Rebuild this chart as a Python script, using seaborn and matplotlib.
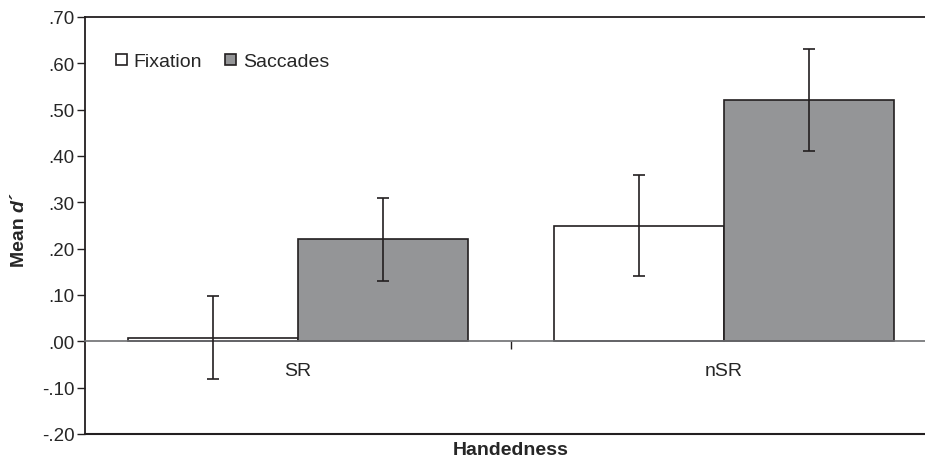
import numpy as np
import pandas as pd
import matplotlib
matplotlib.use("Agg")
import matplotlib.pyplot as plt
import seaborn as sns

# Datos
handedness = ["SR", "nSR"]
conditions = ["Fixation", "Saccades"]
fixation_mean = [0.008, 0.25]
saccades_mean = [0.22, 0.52]
fixation_err = [0.089, 0.11]
saccades_err = [0.09, 0.11]
ytick_vals = [-0.2, -0.1, 0.0, 0.1, 0.2, 0.3, 0.4, 0.5, 0.6, 0.7]
ytick_labels = ["-.20", "-.10", ".00", ".10", ".20", ".30", ".40", ".50", ".60", ".70"]

df = pd.DataFrame({
    "Handedness": handedness * 2,
    "Condition": ["Fixation"] * 2 + ["Saccades"] * 2,
    "d": fixation_mean + saccades_mean,
    "err": fixation_err + saccades_err,
})

sns.set_style("white")
plt.rcParams["font.family"] = ["Liberation Sans", "DejaVu Sans"]

fig = plt.figure(figsize=(9.25, 4.6), dpi=100)
ax = fig.add_axes([85 / 925, 25 / 460, 852 / 925, 417 / 460])

edge = "#231f20"
sns.barplot(data=df, x="Handedness", y="d", hue="Condition", order=handedness,
            hue_order=conditions, palette=["white", "#939598"], width=0.8,
            edgecolor=edge, linewidth=1.2, errorbar=None, ax=ax)

# barras de error sobre cada barra
for cont, cond in zip(ax.containers, conditions):
    sub = df[df["Condition"] == cond].set_index("Handedness").loc[handedness]
    xs = [p.get_x() + p.get_width() / 2 for p in cont.patches]
    ax.errorbar(xs, sub["d"], yerr=sub["err"], fmt="none", ecolor=edge,
                elinewidth=1.2, capsize=4.5, capthick=1.2, zorder=5)

ax.set_ylim(-0.2, 0.7)
ax.set_xlim(-0.5, 1.5)
ax.set_yticks(ytick_vals)
ax.set_yticklabels(ytick_labels)
ax.tick_params(axis="y", direction="out", length=5.5, width=1, color=edge,
               labelsize=13.5, pad=2, left=True)

# eje x en cero, marca entre categorias
ax.spines["bottom"].set_position(("data", 0))
ax.spines["bottom"].set_color("#6d6e71")
ax.spines["bottom"].set_linewidth(1.2)
ax.set_xticks([0, 1])
ax.set_xticklabels(handedness)
ax.set_xticks([0.5], minor=True)
ax.tick_params(axis="x", which="major", length=0, labelsize=14, pad=15)
ax.tick_params(axis="x", which="minor", direction="out", length=6, width=1,
               color=edge, bottom=True)
ax.plot([0, 1], [0, 0], transform=ax.transAxes, color=edge, lw=1.5, clip_on=False)
for s in ["left", "top", "right"]:
    ax.spines[s].set_color(edge)
    ax.spines[s].set_linewidth(1.3)

ax.set_xlabel("")
ax.set_ylabel("")
fig.text(511 / 925, 0.5 / 460, "Handedness", fontsize=14, fontweight="bold",
         ha="center", va="bottom")
fig.text(19 / 925, (460 - 212) / 460, "Mean ", fontsize=14, fontweight="bold",
         rotation=90, ha="center", va="top")
fig.text(19 / 925, (460 - 212) / 460, "d\u00b4", fontsize=14, fontweight="bold",
         style="italic", rotation=90, ha="center", va="bottom")

leg = ax.legend(loc="upper left", bbox_to_anchor=(0.016, 0.955), ncol=2,
                frameon=False, fontsize=14, handlelength=0.55, handleheight=0.55,
                handletextpad=0.35, columnspacing=1.2)

fig.savefig("out.png", dpi=100)
